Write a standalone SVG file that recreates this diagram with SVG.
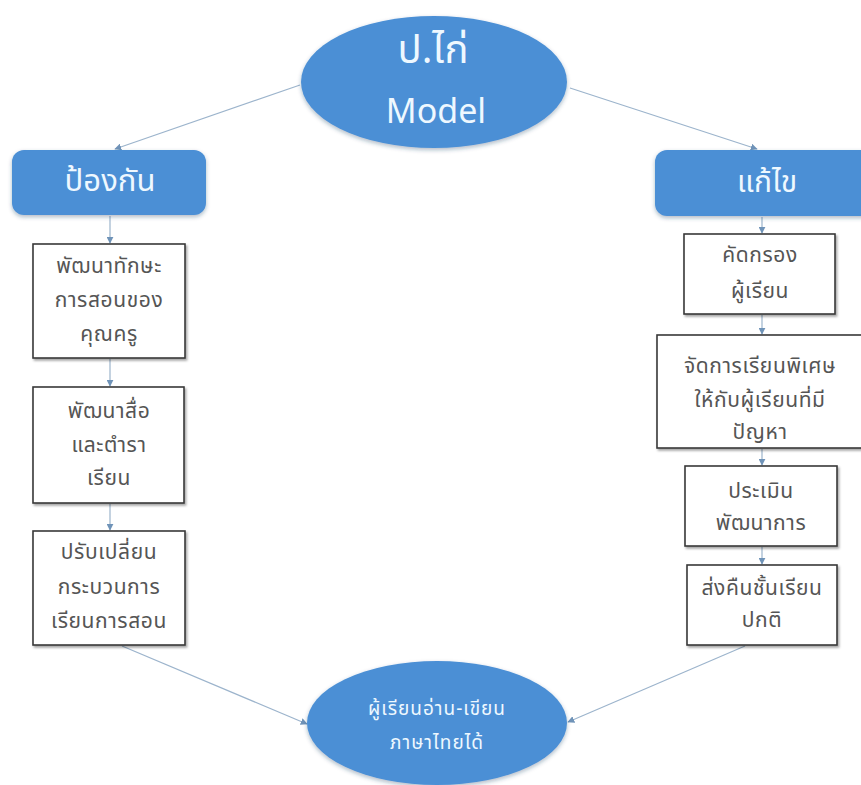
<svg xmlns="http://www.w3.org/2000/svg" width="861" height="785" viewBox="0 0 861 785">
<style>
.blue{fill:#4b8fd5;}
.box{fill:#ffffff;stroke:#3a3a3a;stroke-width:1.6;filter:url(#sh);}
.wt{fill:#eef8ff;font-family:"Noto Sans Thai","Noto Sans","DejaVu Sans",sans-serif;text-anchor:middle;}
.bt{fill:#555555;font-family:"Noto Sans Thai","Noto Sans","DejaVu Sans",sans-serif;font-size:21px;letter-spacing:0.6px;text-anchor:middle;}
.con{fill:none;stroke:#9cb4cc;stroke-width:1.2;marker-end:url(#ah);}
</style>
<defs>
<marker id="ah" viewBox="0 0 10 10" refX="9" refY="5" markerWidth="7" markerHeight="7" orient="auto-start-reverse" markerUnits="userSpaceOnUse">
<path d="M0,0 L10,5 L0,10 z" fill="#6f93b8"/>
</marker>
<filter id="sh" x="-10%" y="-10%" width="125%" height="125%">
<feDropShadow dx="1.5" dy="2" stdDeviation="1.2" flood-color="#000" flood-opacity="0.35"/>
</filter>
<filter id="bs" x="-10%" y="-10%" width="125%" height="130%">
<feDropShadow dx="0" dy="2" stdDeviation="2" flood-color="#1a3a60" flood-opacity="0.35"/>
</filter>
</defs>
<rect width="861" height="785" fill="#ffffff"/>
<g id="connectors">
<line class="con" x1="300" y1="85" x2="115" y2="149"/>
<line class="con" x1="570" y1="88" x2="757" y2="149"/>
<line class="con" x1="110" y1="216" x2="110" y2="243"/>
<line class="con" x1="110" y1="359" x2="110" y2="386"/>
<line class="con" x1="110" y1="504" x2="110" y2="530"/>
<line class="con" x1="762" y1="217" x2="762" y2="233"/>
<line class="con" x1="762" y1="315" x2="762" y2="334"/>
<line class="con" x1="762" y1="449" x2="762" y2="465"/>
<line class="con" x1="762" y1="547" x2="762" y2="564"/>
<line class="con" x1="122" y1="646" x2="307" y2="724"/>
<line class="con" x1="745" y1="646" x2="568" y2="722"/>
</g>
<g id="top">
<ellipse class="blue" cx="434" cy="82" rx="133" ry="66" filter="url(#bs)"/>
<text class="wt" x="433" y="63" font-size="40">ป.ไก่</text>
<text class="wt" x="436" y="123" font-size="34">Model</text>
</g>
<g id="prevent">
<rect class="blue" x="12" y="150" width="194" height="65" rx="12" filter="url(#bs)"/>
<text class="wt" x="110" y="191" font-size="31">ป้องกัน</text>
</g>
<g id="fix">
<rect class="blue" x="655" y="150" width="220" height="66" rx="12" filter="url(#bs)"/>
<text class="wt" x="767" y="192" font-size="30">แก้ไข</text>
</g>
<g id="l1">
<rect class="box" x="33" y="244" width="152" height="114"/>
<text class="bt" x="109" y="273">พัฒนาทักษะ</text>
<text class="bt" x="109" y="307">การสอนของ</text>
<text class="bt" x="109" y="341">คุณครู</text>
</g>
<g id="l2">
<rect class="box" x="33" y="387" width="151" height="116"/>
<text class="bt" x="109" y="418">พัฒนาสื่อ</text>
<text class="bt" x="109" y="452">และตำรา</text>
<text class="bt" x="109" y="485">เรียน</text>
</g>
<g id="l3">
<rect class="box" x="33" y="531" width="152" height="114"/>
<text class="bt" x="109" y="559">ปรับเปลี่ยน</text>
<text class="bt" x="109" y="594">กระบวนการ</text>
<text class="bt" x="109" y="628">เรียนการสอน</text>
</g>
<g id="r1">
<rect class="box" x="684" y="234" width="151" height="80"/>
<text class="bt" x="760" y="262">คัดกรอง</text>
<text class="bt" x="760" y="298">ผู้เรียน</text>
</g>
<g id="r2">
<rect class="box" x="657" y="335" width="210" height="113"/>
<text class="bt" x="760" y="373">จัดการเรียนพิเศษ</text>
<text class="bt" x="760" y="407">ให้กับผู้เรียนที่มี</text>
<text class="bt" x="760" y="439">ปัญหา</text>
</g>
<g id="r3">
<rect class="box" x="685" y="466" width="152" height="80"/>
<text class="bt" x="761" y="498">ประเมิน</text>
<text class="bt" x="761" y="530">พัฒนาการ</text>
</g>
<g id="r4">
<rect class="box" x="687" y="565" width="150" height="80"/>
<text class="bt" x="762" y="595">ส่งคืนชั้นเรียน</text>
<text class="bt" x="762" y="627">ปกติ</text>
</g>
<g id="bottom">
<ellipse class="blue" cx="437" cy="723" rx="130" ry="62" filter="url(#bs)"/>
<text class="wt" x="437" y="715" font-size="19" letter-spacing="1">ผู้เรียนอ่าน-เขียน</text>
<text class="wt" x="437" y="749" font-size="19" letter-spacing="1">ภาษาไทยได้</text>
</g>
</svg>
